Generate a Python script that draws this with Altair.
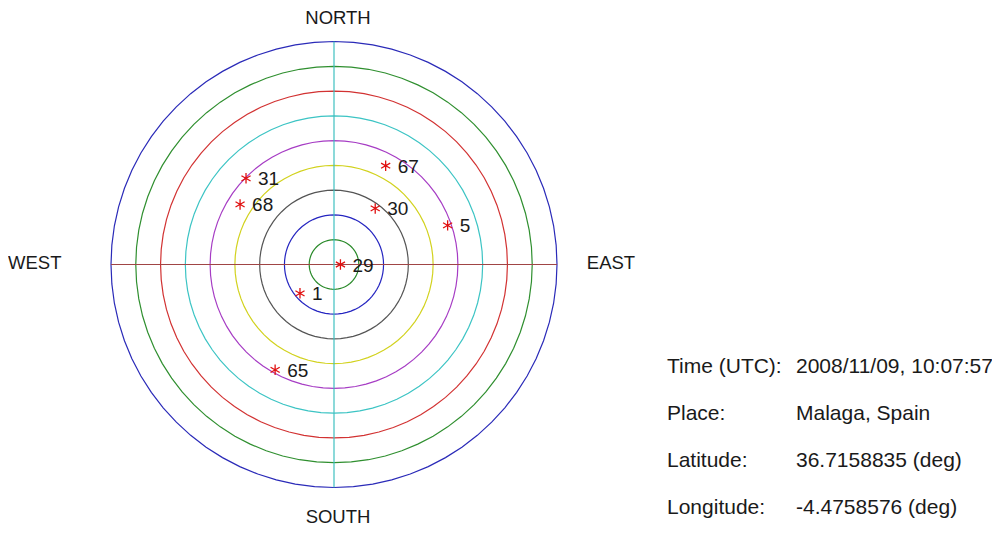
import altair as alt
import pandas as pd

# Satellites: PRN, azimuth (deg, clockwise from north), elevation (deg)
sat_ids = ["29", "1", "65", "31", "68", "67", "30", "5"]
sat_az = [90.0, 229.7, 209.2, 314.4, 302.6, 27.6, 36.3, 71.0]
sat_el = [87.4, 72.0, 41.3, 40.3, 45.0, 45.0, 61.9, 41.5]

# Elevation rings (zenith distance in degrees, inner to outer)
ring_zen = [10, 20, 30, 40, 50, 60, 70, 80, 90]
ring_colors = ["#2A8A2A", "#2424C0", "#555555", "#D2D21E", "#A63CC4",
               "#3CC4C4", "#D23232", "#2F8F2F", "#2A2AB8"]

compass = ["NORTH", "SOUTH", "WEST", "EAST"]
info_labels = ["Time (UTC):", "Place:", "Latitude:", "Longitude:"]
info_values = ["2008/11/09, 10:07:57", "Malaga, Spain",
               "36.7158835 (deg)", "-4.4758576 (deg)"]

FONT = "Liberation Sans"
TXT = "#1a1a1a"

xs = alt.Scale(domain=[-90, 90], nice=False, zero=False)
ys = alt.Scale(domain=[-90, 90], nice=False, zero=False)

rings_df = pd.DataFrame({"ring": [str(z) for z in ring_zen], "r": ring_zen})
rings = (
    alt.Chart(rings_df)
    .transform_calculate(a="sequence(0, 361, 5)")
    .transform_flatten(["a"])
    .transform_calculate(
        px="datum.r * sin(datum.a * PI / 180)",
        py="datum.r * cos(datum.a * PI / 180)",
    )
    .mark_line(strokeWidth=1.2)
    .encode(
        x=alt.X("px:Q", scale=xs, axis=None),
        y=alt.Y("py:Q", scale=ys, axis=None),
        color=alt.Color("ring:N", scale=alt.Scale(domain=[str(z) for z in ring_zen],
                                                  range=ring_colors), legend=None),
        detail="ring:N",
        order=alt.Order("a:Q"),
    )
)

axes_df = pd.DataFrame({"lo": [-90], "hi": [90], "zero": [0]})
hline = alt.Chart(axes_df).mark_rule(color="#A04545", strokeWidth=1.2).encode(
    x=alt.X("lo:Q", scale=xs, axis=None), x2="hi:Q",
    y=alt.Y("zero:Q", scale=ys, axis=None))
vline = alt.Chart(axes_df).mark_rule(color="#3EC0C0", strokeWidth=1.2).encode(
    y=alt.Y("lo:Q", scale=ys, axis=None), y2="hi:Q",
    x=alt.X("zero:Q", scale=xs, axis=None))

sat_df = pd.DataFrame({"prn": sat_ids, "az": sat_az, "el": sat_el})
sat_base = alt.Chart(sat_df).transform_calculate(
    px="(90 - datum.el) * sin(datum.az * PI / 180)",
    py="(90 - datum.el) * cos(datum.az * PI / 180)",
)
asterisk = "M0,-1L0,1M-0.87,-0.5L0.87,0.5M-0.87,0.5L0.87,-0.5"
stars = sat_base.mark_point(shape=asterisk, size=110, filled=False,
                            stroke="#E01010", strokeWidth=1.3, opacity=1).encode(
    x=alt.X("px:Q", scale=xs, axis=None),
    y=alt.Y("py:Q", scale=ys, axis=None))
labels = sat_base.mark_text(align="left", baseline="middle", dx=12, dy=1,
                            fontSize=19, font=FONT, color=TXT).encode(
    x=alt.X("px:Q", scale=xs, axis=None),
    y=alt.Y("py:Q", scale=ys, axis=None),
    text="prn:N")

layers = [rings, hline, vline, stars, labels]

# (x, y, align, baseline) in plot-area pixels
compass_pos = [(227, -33, "center", "top"), (227, 475.5, "center", "middle"),
               (-103, 221.5, "left", "middle"), (500, 221.5, "center", "middle")]
for name, (cx, cy, al, bl) in zip(compass, compass_pos):
    layers.append(
        alt.Chart(pd.DataFrame({"t": [name]})).mark_text(
            align=al, baseline=bl, fontSize=18.5, font=FONT, color=TXT
        ).encode(text="t:N", x=alt.value(cx), y=alt.value(cy))
    )

row_y = [325.5, 372.5, 419.5, 466.5]
for lab, val, yy in zip(info_labels, info_values, row_y):
    layers.append(
        alt.Chart(pd.DataFrame({"t": [lab]})).mark_text(
            align="left", baseline="middle", fontSize=21, font=FONT, color=TXT
        ).encode(text="t:N", x=alt.value(556), y=alt.value(yy))
    )
    layers.append(
        alt.Chart(pd.DataFrame({"t": [val]})).mark_text(
            align="left", baseline="middle", fontSize=21, font=FONT, color=TXT
        ).encode(text="t:N", x=alt.value(685), y=alt.value(yy))
    )

chart = alt.layer(*layers).properties(
    width=446, height=446,
    autosize=alt.AutoSizeParams(type="none"),
    padding={"left": 103, "top": 33.5, "right": 435, "bottom": 38.5},
    background="white",
).configure_view(stroke=None)

chart.save("out.html", embed_options={"renderer": "svg", "actions": False})
